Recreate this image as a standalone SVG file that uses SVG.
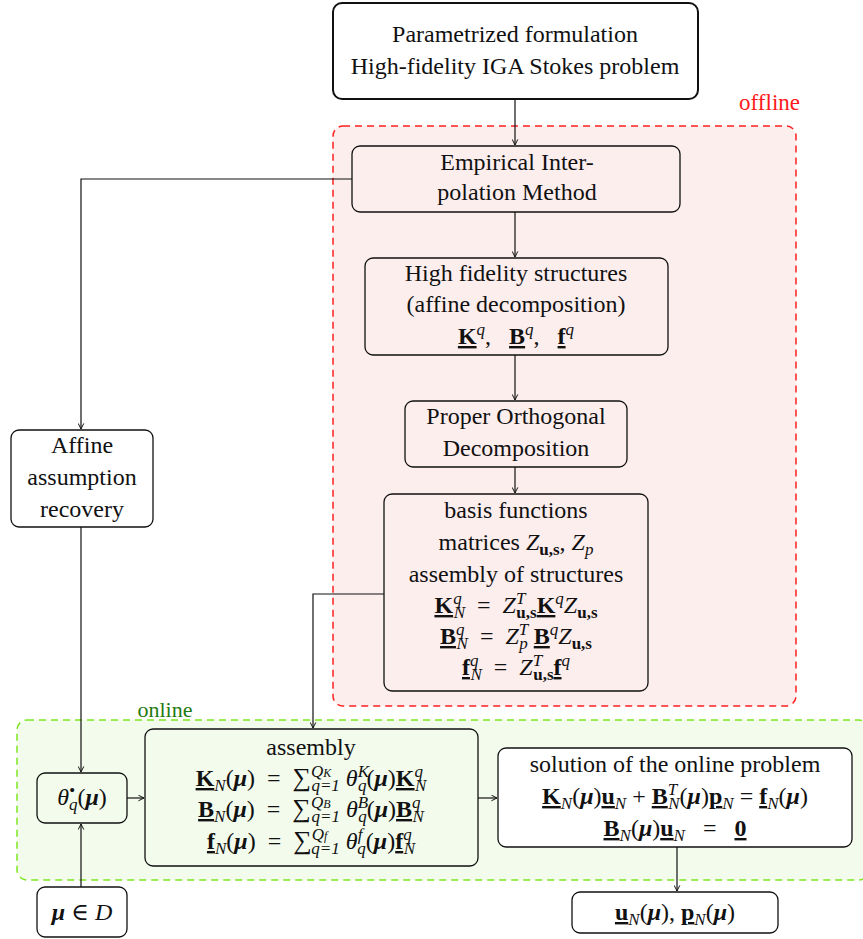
<svg xmlns="http://www.w3.org/2000/svg" width="863" height="939" viewBox="0 0 863 939">
<style>
text{font-family:"Liberation Serif","DejaVu Serif",serif;font-size:24px;fill:#111;text-anchor:middle}
.node{stroke:#111;stroke-width:1.3;fill:none}
.pk{fill:#fdeeee}
.gr{fill:#f3fbec}
.wh{fill:#fff}
.b{font-weight:bold}
.i{font-style:italic}
.u{text-decoration:underline}
.sup{font-size:17px;baseline-shift:9px;font-style:italic}
.sub{font-size:17px;baseline-shift:-5px;font-style:italic}
.subb{font-size:17px;baseline-shift:-5px;font-weight:bold}
.ss{font-size:12px}
.c{fill:none;stroke:#111;stroke-width:1.2}
</style>
<defs>
<marker id="ah" viewBox="0 0 10 10" refX="9" refY="5" markerWidth="7" markerHeight="7" orient="auto" markerUnits="userSpaceOnUse">
<path d="M1,1 L9,5 L1,9" fill="none" stroke="#111" stroke-width="1.4"/>
</marker>
</defs>
<g id="regions">
<rect x="333" y="126" width="463" height="580" rx="10" fill="#fdeeee" stroke="#ff2020" stroke-width="1.5" stroke-dasharray="7,5"/>
<text x="800" y="110" style="fill:#ff1a1a;text-anchor:end;font-size:23px">offline</text>
<rect x="17" y="720" width="852" height="160" rx="10" fill="#f3fbec" stroke="#7de820" stroke-width="1.5" stroke-dasharray="7,5"/>
<text x="165" y="717" style="fill:#1f7a10;font-size:22px">online</text>
</g>
<g id="connectors">
<path class="c" d="M515,99 V145" marker-end="url(#ah)"/>
<path class="c" d="M515,212 V257" marker-end="url(#ah)"/>
<path class="c" d="M515,355 V400" marker-end="url(#ah)"/>
<path class="c" d="M515,467 V493" marker-end="url(#ah)"/>
<path class="c" d="M352,179 H81 V429" marker-end="url(#ah)"/>
<path class="c" d="M81,527 V772" marker-end="url(#ah)"/>
<path class="c" d="M81,887 V824" marker-end="url(#ah)"/>
<path class="c" d="M127,798 H144" marker-end="url(#ah)"/>
<path class="c" d="M384,594 H313 V728" marker-end="url(#ah)"/>
<path class="c" d="M478,798 H497" marker-end="url(#ah)"/>
<path class="c" d="M677,847 V891" marker-end="url(#ah)"/>
</g>
<g id="n_top">
<rect x="333" y="3" width="365" height="96" rx="9" class="wh" stroke="#111" stroke-width="2"/>
<text x="515" y="42">Parametrized formulation</text>
<text x="515" y="74">High-fidelity IGA Stokes problem</text>
</g>
<g id="n_eim">
<rect x="352" y="146" width="328" height="66" rx="8" class="node pk"/>
<text x="517" y="170">Empirical Inter-</text>
<text x="517" y="200">polation Method</text>
</g>
<g id="n_hf">
<rect x="365" y="258" width="303" height="97" rx="8" class="node pk"/>
<text x="516" y="281">High fidelity structures</text>
<text x="516" y="312">(affine decomposition)</text>
<text x="516" y="344"><tspan class="b u">K</tspan><tspan class="sup">q</tspan>, &#160; <tspan class="b u">B</tspan><tspan class="sup">q</tspan>, &#160; <tspan class="b u">f</tspan><tspan class="sup">q</tspan></text>
</g>
<g id="n_pod">
<rect x="405" y="401" width="222" height="66" rx="8" class="node pk"/>
<text x="516" y="424">Proper Orthogonal</text>
<text x="516" y="456">Decomposition</text>
</g>
<g id="n_basis">
<rect x="384" y="494" width="264" height="197" rx="8" class="node pk"/>
<text x="516" y="518">basis functions</text>
<text x="516" y="550">matrices <tspan class="i">Z</tspan><tspan class="subb">u,s</tspan>, <tspan class="i">Z</tspan><tspan class="sub">p</tspan></text>
<text x="516" y="582">assembly of structures</text>
<text x="516" y="613"><tspan class="b u">K</tspan><tspan class="sup">q</tspan><tspan class="sub" dx="-8">N</tspan> &#160;=&#160; <tspan class="i">Z</tspan><tspan class="sup">T</tspan><tspan class="subb" dx="-9">u,s</tspan><tspan class="b u">K</tspan><tspan class="sup">q</tspan><tspan class="i">Z</tspan><tspan class="subb">u,s</tspan></text>
<text x="516" y="644"><tspan class="b u">B</tspan><tspan class="sup">q</tspan><tspan class="sub" dx="-8">N</tspan> &#160;=&#160; <tspan class="i">Z</tspan><tspan class="sup">T</tspan><tspan class="sub" dx="-9">p</tspan> <tspan class="b u">B</tspan><tspan class="sup">q</tspan><tspan class="i">Z</tspan><tspan class="subb">u,s</tspan></text>
<text x="516" y="675"><tspan class="b u">f</tspan><tspan class="sup">q</tspan><tspan class="sub" dx="-8">N</tspan> &#160;=&#160; <tspan class="i">Z</tspan><tspan class="sup">T</tspan><tspan class="subb" dx="-9">u,s</tspan><tspan class="b u">f</tspan><tspan class="sup">q</tspan></text>
</g>
<g id="n_affine">
<rect x="11" y="430" width="142" height="97" rx="8" class="node wh"/>
<text x="82" y="453">Affine</text>
<text x="82" y="485">assumption</text>
<text x="82" y="517">recovery</text>
</g>
<g id="n_theta">
<rect x="37" y="773" width="90" height="50" rx="8" class="node gr"/>
<text x="82" y="805"><tspan class="i">θ</tspan><tspan class="sup">•</tspan><tspan class="sub" dx="-6">q</tspan>(<tspan class="b i">μ</tspan>)</text>
</g>
<g id="n_mu">
<rect x="37" y="887" width="90" height="50" rx="8" class="node wh"/>
<text x="82" y="920"><tspan class="b i">μ</tspan> ∈ <tspan class="i">D</tspan></text>
</g>
<g id="n_assembly">
<rect x="145" y="729" width="333" height="137" rx="8" class="node gr"/>
<text x="311" y="755">assembly</text>
<text x="311" y="786"><tspan class="b u">K</tspan><tspan class="sub">N</tspan>(<tspan class="b i">μ</tspan>) &#160;=&#160; <tspan style="font-size:26px">∑</tspan><tspan class="sup">Q</tspan><tspan class="sup ss">K</tspan><tspan class="sub" dx="-20">q=1</tspan> <tspan class="i">θ</tspan><tspan class="sup">K</tspan><tspan class="sub" dx="-11">q</tspan>(<tspan class="b i">μ</tspan>)<tspan class="b u">K</tspan><tspan class="sup">q</tspan><tspan class="sub" dx="-8">N</tspan></text>
<text x="311" y="817"><tspan class="b u">B</tspan><tspan class="sub">N</tspan>(<tspan class="b i">μ</tspan>) &#160;=&#160; <tspan style="font-size:26px">∑</tspan><tspan class="sup">Q</tspan><tspan class="sup ss">B</tspan><tspan class="sub" dx="-19">q=1</tspan> <tspan class="i">θ</tspan><tspan class="sup">B</tspan><tspan class="sub" dx="-10">q</tspan>(<tspan class="b i">μ</tspan>)<tspan class="b u">B</tspan><tspan class="sup">q</tspan><tspan class="sub" dx="-8">N</tspan></text>
<text x="311" y="849"><tspan class="b u">f</tspan><tspan class="sub">N</tspan>(<tspan class="b i">μ</tspan>) &#160;=&#160; <tspan style="font-size:26px">∑</tspan><tspan class="sup">Q</tspan><tspan class="sup ss">f</tspan><tspan class="sub" dx="-16">q=1</tspan> <tspan class="i">θ</tspan><tspan class="sup">f</tspan><tspan class="sub" dx="-5">q</tspan>(<tspan class="b i">μ</tspan>)<tspan class="b u">f</tspan><tspan class="sup">q</tspan><tspan class="sub" dx="-8">N</tspan></text>
</g>
<g id="n_solution">
<rect x="498" y="748" width="354" height="99" rx="8" class="node wh"/>
<text x="675" y="772">solution of the online problem</text>
<text x="675" y="804"><tspan class="b u">K</tspan><tspan class="sub">N</tspan>(<tspan class="b i">μ</tspan>)<tspan class="b u">u</tspan><tspan class="sub">N</tspan> + <tspan class="b u">B</tspan><tspan class="sup">T</tspan><tspan class="sub" dx="-9">N</tspan>(<tspan class="b i">μ</tspan>)<tspan class="b u">p</tspan><tspan class="sub">N</tspan> = <tspan class="b u">f</tspan><tspan class="sub">N</tspan>(<tspan class="b i">μ</tspan>)</text>
<text x="675" y="836"><tspan class="b u">B</tspan><tspan class="sub">N</tspan>(<tspan class="b i">μ</tspan>)<tspan class="b u">u</tspan><tspan class="sub">N</tspan> &#160; = &#160; <tspan class="b u">0</tspan></text>
</g>
<g id="n_out">
<rect x="572" y="892" width="206" height="41" rx="8" class="node wh"/>
<text x="675" y="920"><tspan class="b u">u</tspan><tspan class="sub">N</tspan>(<tspan class="b i">μ</tspan>), <tspan class="b u">p</tspan><tspan class="sub">N</tspan>(<tspan class="b i">μ</tspan>)</text>
</g>
</svg>
